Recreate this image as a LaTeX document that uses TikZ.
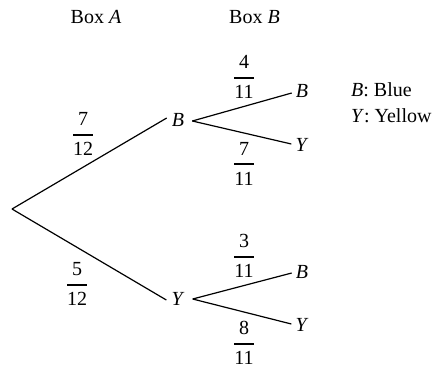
\documentclass[tikz,border=0pt]{standalone}
\usepackage{amsmath}
\usepackage{fontspec}
\setmainfont{Liberation Serif}
\newcommand\myfrac[2]{$\displaystyle\genfrac{}{}{2.2pt}{0}{\mbox{#1}}{\mbox{#2}}$}
\begin{document}
\begin{tikzpicture}[x=1pt,y=-1pt,
  font=\fontsize{20}{24}\selectfont,
  branch/.style={line width=1.2pt},
  lvl/.style={inner sep=0pt},
  prob/.style={inner sep=0pt,anchor=base},
  txt/.style={inner sep=0pt,anchor=base}]
\useasboundingbox (0,0) rectangle (436,368);
% headings
\node[txt] (hA) at (96,23.5) {Box \textit{A}};
\node[txt] (hB) at (254.5,23.5) {Box \textit{B}};
% nodes
\coordinate (r) at (12,209);
\node[lvl] (mB) at (178,120) {\textit{B}};
\node[lvl] (mY) at (178,298.5) {\textit{Y}};
\node[lvl] (lB1) at (302,91) {\textit{B}};
\node[lvl] (lY1) at (302,145) {\textit{Y}};
\node[lvl] (lB2) at (302,271.5) {\textit{B}};
\node[lvl] (lY2) at (302,324.5) {\textit{Y}};
% branches
\draw[branch] (r) -- ([xshift=-5pt,yshift=2pt]mB.west);
\draw[branch] (r) -- ([xshift=-5pt,yshift=-1.5pt]mY.west);
\draw[branch] ([xshift=8pt,yshift=-1pt]mB.east) -- ([xshift=-4pt,yshift=-2pt]lB1.west);
\draw[branch] ([xshift=8pt,yshift=-1pt]mB.east) -- ([xshift=-4pt,yshift=1pt]lY1.west);
\draw[branch] ([xshift=8pt,yshift=-0.5pt]mY.east) -- ([xshift=-4pt,yshift=-1.5pt]lB2.west);
\draw[branch] ([xshift=8pt,yshift=-0.5pt]mY.east) -- ([xshift=-4pt,yshift=0.5pt]lY2.west);
% probabilities
\node[prob] (p1) at (83,140) {\myfrac{7}{12}};
\node[prob] (p2) at (77,290) {\myfrac{5}{12}};
\node[prob] (p3) at (244,83) {\myfrac{4}{11}};
\node[prob] (p4) at (244,169.5) {\myfrac{7}{11}};
\node[prob] (p5) at (244,262) {\myfrac{3}{11}};
\node[prob] (p6) at (244,349) {\myfrac{8}{11}};
% legend
\node[txt,anchor=base west] (k1) at (351,96) {\textit{B}: Blue};
\node[txt,anchor=base west] (k2) at (351,122) {\textit{Y}: Yellow};
\end{tikzpicture}
\end{document}
